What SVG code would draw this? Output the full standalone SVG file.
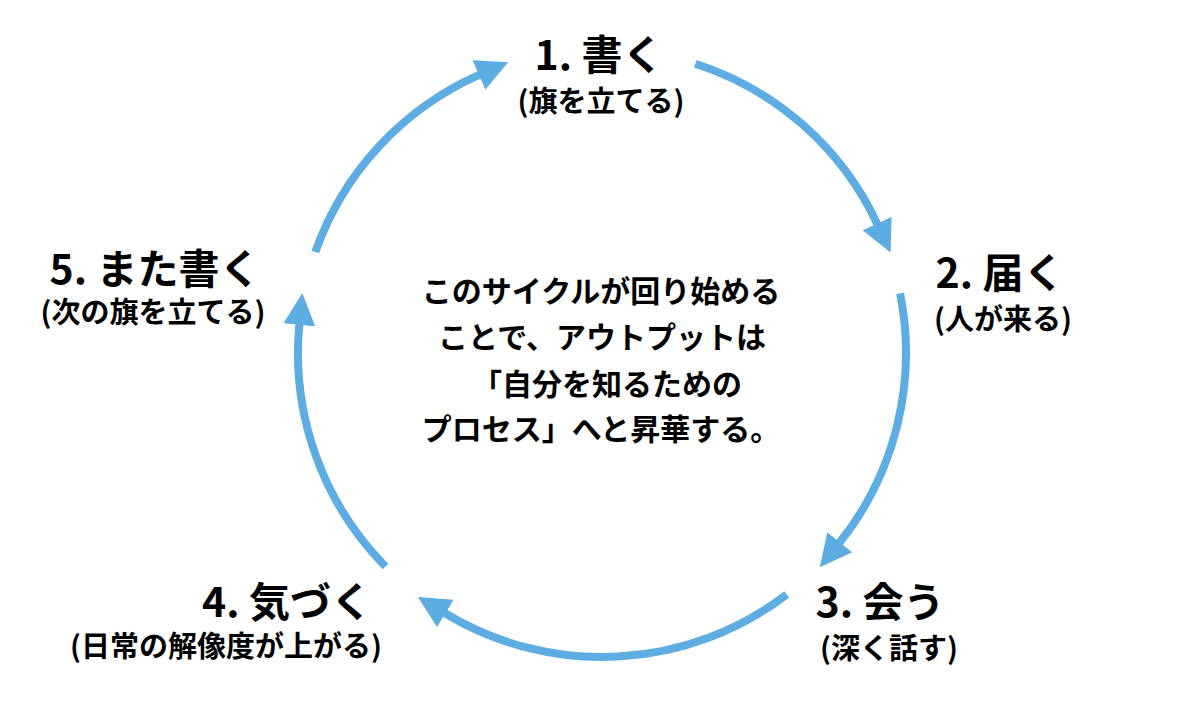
<svg xmlns="http://www.w3.org/2000/svg" width="1200" height="704" viewBox="0 0 1200 704">
<style>
text{font-family:"Noto Sans CJK JP","Noto Sans",sans-serif;font-weight:700;fill:#000;text-anchor:middle}
.t{font-size:41px}
.s{font-size:29px}
.c{font-size:30px}
.arc{fill:none;stroke:#5dade2;stroke-width:8;marker-end:url(#ah)}
</style>
<defs>
<marker id="ah" markerUnits="userSpaceOnUse" markerWidth="40" markerHeight="40" viewBox="0 -20 40 40" refX="1" refY="0" orient="auto">
<path d="M0,-16 L32,0 L0,16 Z" fill="#5dade2"/>
</marker>
</defs>
<rect width="1200" height="704" fill="#fff"/>
<g id="connectors">
<path class="arc" d="M315.3,252 A304,304 0 0 1 479.8,74.6"/>
<path class="arc" d="M695.4,63.7 A304,304 0 0 1 877.5,224.5"/>
<path class="arc" d="M900.1,293.4 A304,304 0 0 1 839.2,543.1"/>
<path class="arc" d="M786.7,594.5 A304,304 0 0 1 444.5,613"/>
<path class="arc" d="M385.5,566.5 A304,304 0 0 1 299.4,323.9"/>
</g>
<g id="node1"><text class="t" x="599" y="70">1. 書く</text><text class="s" x="601" y="112">(旗を立てる)</text></g>
<g id="node2"><text class="t" x="1000" y="288">2. 届く</text><text class="s" x="1003" y="330">(人が来る)</text></g>
<g id="node3"><text class="t" x="880" y="617">3. 会う</text><text class="s" x="889" y="659">(深く話す)</text></g>
<g id="node4"><text class="t" x="287" y="617">4. 気づく</text><text class="s" x="226" y="657">(日常の解像度が上がる)</text></g>
<g id="node5"><text class="t" x="155" y="284">5. また書く</text><text class="s" x="153" y="323">(次の旗を立てる)</text></g>
<g id="center">
<text class="c" x="601" y="302">このサイクルが回り始める</text>
<text class="c" x="602" y="348">ことで、アウトプットは</text>
<text class="c" x="607" y="395">「自分を知るための</text>
<text class="c" x="601" y="440">プロセス」へと昇華する。</text>
</g>
</svg>
